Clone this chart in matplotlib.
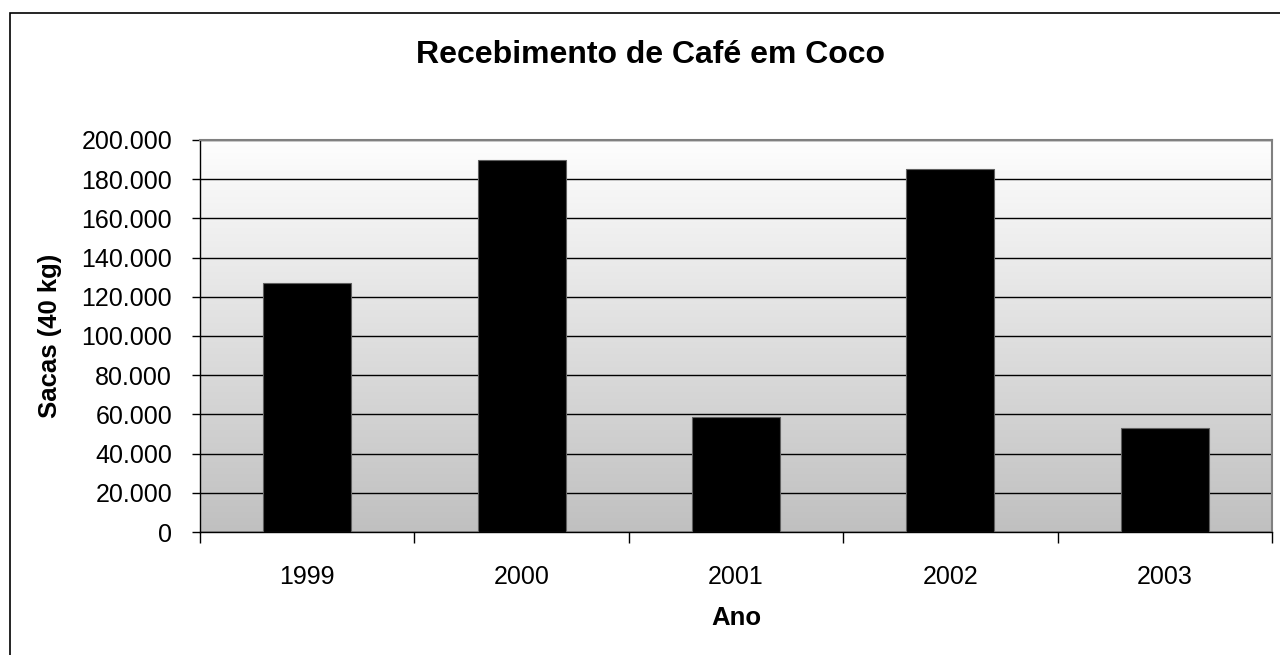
import matplotlib
matplotlib.use("Agg")
import matplotlib.pyplot as plt
import numpy as np
from matplotlib.patches import Rectangle
from matplotlib.ticker import FuncFormatter, MultipleLocator

years = ["1999", "2000", "2001", "2002", "2003"]
sacas = [127000, 190000, 58500, 185000, 53000]

plt.rcParams['font.family'] = ['Liberation Sans', 'DejaVu Sans']

W, H = 1280, 655
fig = plt.figure(figsize=(W / 100, H / 100), dpi=100)
fig.patch.set_facecolor("white")

# outer chart border (left/top visible)
fig.add_artist(Rectangle((10 / W, -0.1), 1.5, (H - 13) / H + 0.1,
                         transform=fig.transFigure, fill=False,
                         edgecolor="black", linewidth=1.2))

ax = fig.add_axes([200 / W, (H - 532) / H, 1072 / W, 392 / H])

x = np.arange(len(years))

# gradient background
grad = np.linspace(0, 1, 256).reshape(-1, 1)
cmap = matplotlib.colors.LinearSegmentedColormap.from_list("g", ["#fefefe", "#c0c0c0"])
ax.imshow(grad, aspect="auto", cmap=cmap, extent=[-0.5, len(years) - 0.5, 0, 200000],
          origin="upper", zorder=0)
ax.set_xlim(-0.5, len(years) - 0.5)
ax.set_ylim(0, 200000)

ax.yaxis.set_major_locator(MultipleLocator(20000))
ax.grid(axis="y", color="black", linewidth=1.0, zorder=1)
ax.set_axisbelow(True)

ax.bar(x, sacas, width=0.41, color="black", edgecolor="#606060", linewidth=0.8, zorder=3)

ax.yaxis.set_major_formatter(FuncFormatter(lambda v, p: f"{int(v):,}".replace(",", ".")))
ax.set_xticks(x)
ax.set_xticklabels(years)
ax.set_xticks(np.arange(-0.5, len(years)), minor=True)
ax.tick_params(axis="x", which="major", length=0, pad=24, labelsize=18)
ax.tick_params(axis="x", which="minor", length=8, direction="out", width=1, color="black")
ax.tick_params(axis="y", length=6, direction="out", width=1, labelsize=18, pad=14)

for s in ["top", "right"]:
    ax.spines[s].set_color("#808080")
    ax.spines[s].set_linewidth(1.5)
for s in ["left", "bottom"]:
    ax.spines[s].set_color("black")
    ax.spines[s].set_linewidth(1.0)

ax.set_xlabel("Ano", fontsize=18.5, fontweight="bold", labelpad=12)
ax.set_ylabel("Sacas (40 kg)", fontsize=18.5, fontweight="bold", labelpad=14)
fig.text(651 / W, 1 - 55 / H, "Recebimento de Café em Coco", ha="center", va="center",
         fontsize=23, fontweight="bold")

fig.savefig("out.png", dpi=100)
